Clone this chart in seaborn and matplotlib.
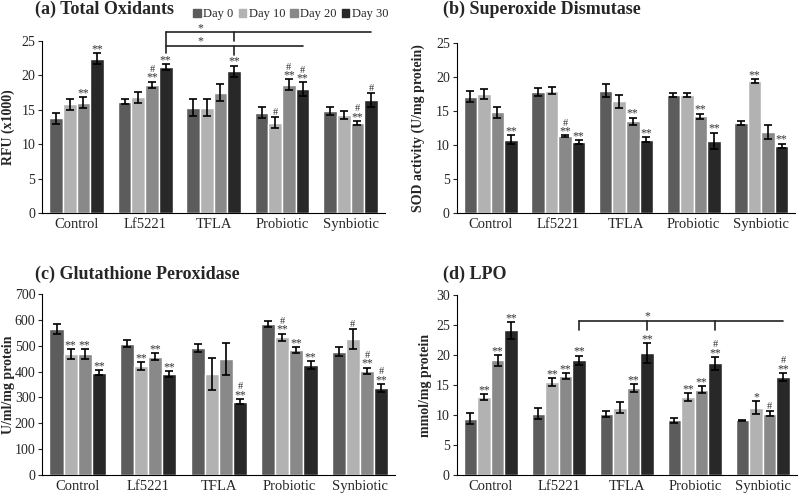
import numpy as np
import pandas as pd
import seaborn as sns
import matplotlib.pyplot as plt

groups = ["Control", "Lf5221", "TFLA", "Probiotic", "Synbiotic"]
days = ["Day 0", "Day 10", "Day 20", "Day 30"]
colors = ["#5c5c5c", "#b2b2b2", "#898989", "#282828"]

# values per group: [Day 0, Day 10, Day 20, Day 30]
tox_mean = [[13.8, 15.8, 16.0, 22.4], [16.2, 16.8, 18.6, 21.2], [15.3, 15.3, 17.5, 20.6],
            [14.6, 13.1, 18.6, 18.0], [14.8, 14.2, 13.1, 16.4]]
tox_err = [[0.8, 0.8, 0.8, 0.8], [0.3, 0.8, 0.5, 0.4], [1.2, 1.2, 1.2, 0.8],
           [0.8, 0.8, 0.8, 1.0], [0.6, 0.6, 0.3, 1.0]]
tox_marks = [["", "", "**", "**"], ["", "", "#**", "**"], ["", "", "", "**"],
             ["", "#", "#**", "#**"], ["", "", "#**", "#"]]

sod_mean = [[17.1, 17.5, 14.8, 10.8], [17.8, 18.0, 11.3, 10.4], [18.0, 16.4, 13.5, 10.8],
            [17.3, 17.3, 14.2, 10.6], [13.3, 19.4, 11.9, 9.9]]
sod_err = [[0.8, 0.8, 0.8, 0.6], [0.6, 0.5, 0.1, 0.3], [1.0, 1.0, 0.5, 0.4],
           [0.3, 0.3, 0.4, 1.2], [0.3, 0.3, 1.0, 0.3]]
sod_marks = [["", "", "", "**"], ["", "", "#**", "**"], ["", "", "**", "**"],
             ["", "", "**", "**"], ["", "**", "", "**"]]

gpx_mean = [[565, 468, 468, 395], [508, 420, 457, 389], [490, 390, 448, 283],
            [583, 532, 483, 425], [477, 525, 402, 337]]
gpx_err = [[18, 20, 20, 10], [15, 15, 13, 12], [15, 62, 62, 10],
           [12, 15, 13, 15], [18, 38, 13, 15]]
gpx_marks = [["", "**", "**", "**"], ["", "**", "**", "**"], ["", "", "", "#**"],
             ["", "#**", "**", "**"], ["", "#", "#**", "#**"]]

lpo_mean = [[9.4, 13.0, 19.1, 24.1], [10.2, 15.5, 16.5, 19.1], [10.1, 11.2, 14.5, 20.3],
            [9.1, 13.0, 14.2, 18.6], [9.1, 11.2, 10.2, 16.3]]
lpo_err = [[0.9, 0.5, 0.9, 1.4], [0.9, 0.7, 0.5, 0.8], [0.5, 0.9, 0.6, 1.7],
           [0.4, 0.6, 0.6, 1.1], [0.1, 1.1, 0.4, 0.7]]
lpo_marks = [["", "**", "**", "**"], ["", "**", "**", "**"], ["", "", "**", "**"],
             ["", "**", "**", "#**"], ["", "*", "#", "#**"]]

sns.set_style("white")
plt.rcParams['font.family'] = ['Liberation Serif', 'DejaVu Serif']

fig = plt.figure(figsize=(8, 4.99), dpi=100)


def panel(rect, mean, err, marks, ymax, ystep, ylabel, label_x, title, title_xy):
    ax = fig.add_axes(rect)
    rows = []
    for g, vals in zip(groups, mean):
        for d, v in zip(days, vals):
            rows.append({"group": g, "day": d, "value": v})
    df = pd.DataFrame(rows)
    sns.barplot(data=df, x="group", y="value", hue="day", palette=colors,
                errorbar=None, width=0.8, saturation=1, ax=ax, legend=False)
    tops = {}
    bar_conts = list(ax.containers)
    for j, cont in enumerate(bar_conts):
        for i, bar in enumerate(cont):
            xc = bar.get_x() + bar.get_width() / 2
            v = mean[i][j]
            e = err[i][j]
            ax.errorbar(xc, v, yerr=e, color="black", capsize=3, lw=1.2, capthick=1.2)
            tops[(i, j)] = xc
            m = marks[i][j]
            y = v + e - ymax * 0.012
            if "**" in m or m == "*":
                star = "**" if "**" in m else "*"
                ax.text(xc, y, star, ha="center", va="bottom", fontsize=8.5, color="#333333")
                y += ymax * 0.055
            else:
                y += ymax * 0.012
            if "#" in m:
                ax.text(xc, y, "#", ha="center", va="bottom", fontsize=7.5, color="#333333")
    ax.set_ylim(0, ymax)
    ax.set_yticks(np.arange(0, ymax + ystep / 2, ystep))
    ax.set_xlim(-0.5, 4.5)
    ax.set_xlabel("")
    ax.set_ylabel(ylabel, fontsize=10, fontweight="bold")
    ax.yaxis.set_label_coords(label_x, 0.5)
    ax.tick_params(axis="y", labelsize=10, direction="out", length=3, left=True, pad=2)
    ax.tick_params(axis="x", labelsize=10.5, length=0)
    sns.despine(ax=ax)
    for s in ["left", "bottom"]:
        ax.spines[s].set_color("black")
    fig.text(title_xy[0], title_xy[1], title, fontsize=13, fontweight="bold", va="center")
    return ax, tops


ax_a, pos_a = panel([0.053, 0.573, 0.428, 0.345], tox_mean, tox_err, tox_marks, 25, 5,
                    "RFU (x1000)", -0.079, "(a) Total Oxidants", (0.044, 0.982))
ax_b, pos_b = panel([0.571, 0.573, 0.423, 0.341], sod_mean, sod_err, sod_marks, 25, 5,
                    "SOD activity (U/mg protein)", -0.095, "(b) Superoxide Dismutase", (0.554, 0.982))
ax_c, pos_c = panel([0.053, 0.048, 0.441, 0.363], gpx_mean, gpx_err, gpx_marks, 700, 100,
                    "U/ml/mg protein", -0.079, "(c) Glutathione Peroxidase", (0.044, 0.451))
ax_d, pos_d = panel([0.571, 0.048, 0.425, 0.361], lpo_mean, lpo_err, lpo_marks, 30, 5,
                    "mmol/mg protein", -0.074, "(d) LPO", (0.554, 0.451))

# legend for panel (a)
handles = [plt.Rectangle((0, 0), 1, 1, color=c) for c in colors]
ax_a.legend(handles, days, loc="center right", bbox_to_anchor=(1.01, 1.155), ncol=4,
            frameon=False, fontsize=9, handlelength=0.6, handleheight=0.6,
            handletextpad=0.2, columnspacing=0.4, borderaxespad=0, borderpad=0)

# significance brackets, panel (a)
kw = dict(color="#222222", lw=1.2, clip_on=False)
x1, x2, x3, x4 = pos_a[(1, 3)], pos_a[(2, 3)], pos_a[(3, 3)], pos_a[(4, 3)]
ax_a.plot([x1, x1], [26.3, 23.2], **kw)
ax_a.plot([x1, x4], [26.3, 26.3], **kw)
ax_a.plot([x1, x3], [24.3, 24.3], **kw)
ax_a.plot([x2, x2], [26.3, 25.0], **kw)
ax_a.plot([x2, x2], [24.3, 22.9], **kw)
xs = (x1 + x2) / 2
ax_a.text(xs, 26.0, "*", ha="center", va="bottom", fontsize=8.5, color="#333333", clip_on=False)
ax_a.text(xs, 24.0, "*", ha="center", va="bottom", fontsize=8.5, color="#333333", clip_on=False)

# significance bracket, panel (d)
x1, x2, x3, x4 = pos_d[(1, 3)], pos_d[(2, 3)], pos_d[(3, 3)], pos_d[(4, 3)]
ax_d.plot([x1, x4], [25.7, 25.7], **kw)
ax_d.plot([x1, x1], [25.7, 24.2], **kw)
ax_d.plot([x2, x2], [25.7, 24.2], **kw)
ax_d.plot([x3, x3], [25.7, 24.2], **kw)
ax_d.text(x2, 25.4, "*", ha="center", va="bottom", fontsize=8.5, color="#333333")

fig.savefig("out.png", dpi=100)
